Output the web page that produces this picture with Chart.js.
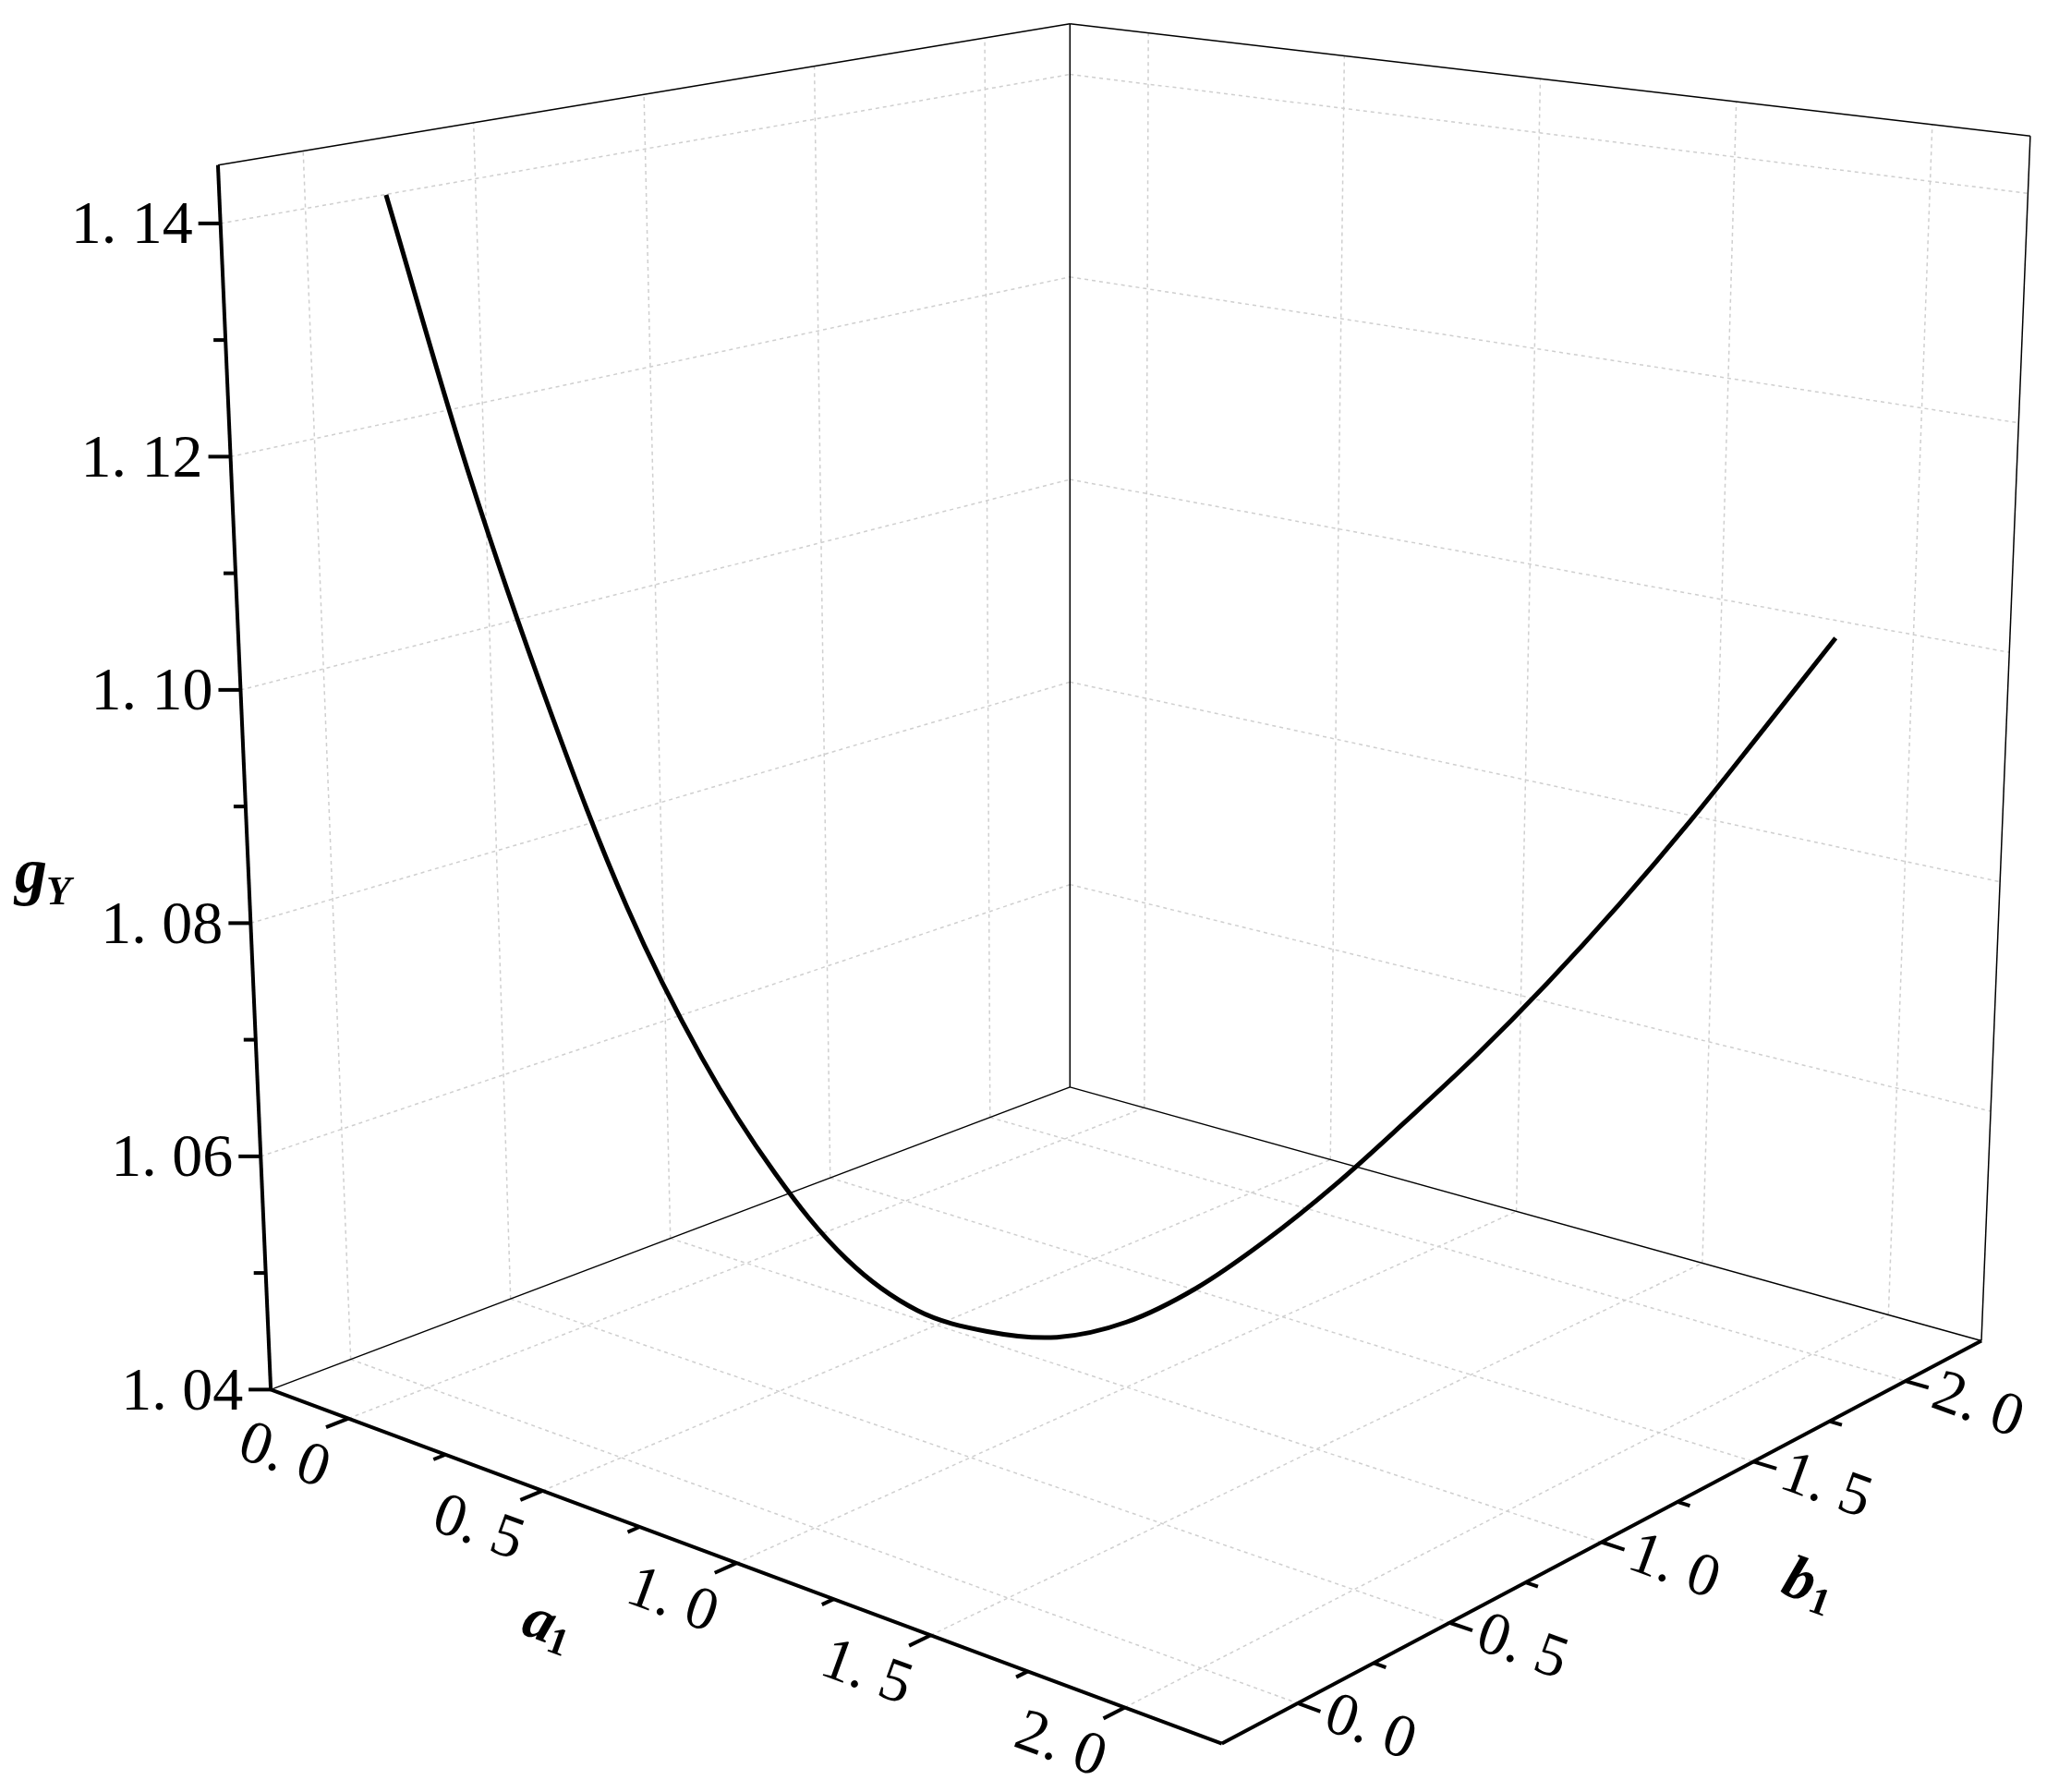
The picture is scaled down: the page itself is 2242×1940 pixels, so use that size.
<!DOCTYPE html>
<html>
<head>
<meta charset="utf-8">
<script src="https://cdn.jsdelivr.net/npm/chart.js@4/dist/chart.umd.min.js"></script>
<style>
  html, body { margin: 0; padding: 0; background: #fff; }
  #wrap { width: 2242px; height: 1940px; position: relative; }
</style>
</head>
<body>
<div id="wrap"><canvas id="chart"></canvas></div>
<script>
// data: curve along a1 = b1 = t
const tValues = [0, 0.1, 0.2, 0.3, 0.4, 0.5, 0.6, 0.7, 0.8, 0.9, 1.0, 1.1, 1.2, 1.3, 1.4, 1.5, 1.6, 1.7, 1.8, 1.9, 2.0];
const gValues = [1.143, 1.119, 1.099, 1.082, 1.069, 1.059, 1.0515, 1.047, 1.0451, 1.0445, 1.0457, 1.0485, 1.0525, 1.0572, 1.0625, 1.068, 1.074, 1.0805, 1.0875, 1.095, 1.1026];

const aTicks = [0, 0.5, 1.0, 1.5, 2.0];
const bTicks = [0, 0.5, 1.0, 1.5, 2.0];
const gTicks = [1.04, 1.06, 1.08, 1.10, 1.12, 1.14];
const aMinor = [0.25, 0.75, 1.25, 1.75];
const bMinor = [0.25, 0.75, 1.25, 1.75];
const gMinor = [1.05, 1.07, 1.09, 1.11, 1.13];

const A0 = -0.2, A1 = 2.25, B0 = -0.25, B1 = 2.25, G0 = 1.04, G1 = 1.145;

// box corners (screen), floor and ceiling
const S = 1.43;
const F = [[205, 1052], [925, 1320], [1500, 1015], [810, 823]].map(p => [p[0] * S, p[1] * S]);
const T = [[165, 125], [930, 330], [1537, 103], [810, 18]].map(p => [p[0] * S, p[1] * S]);

function proj(a, b, g) {
    const u = (a - A0) / (A1 - A0), v = (b - B0) / (B1 - B0), w = (g - G0) / (G1 - G0);
    const wt = [(1 - u) * (1 - v), u * (1 - v), u * v, (1 - u) * v];
    let fx = 0, fy = 0, tx = 0, ty = 0;
    for (let i = 0; i < 4; i++) {
        fx += F[i][0] * wt[i]; fy += F[i][1] * wt[i];
        tx += T[i][0] * wt[i]; ty += T[i][1] * wt[i];
    }
    return { x: fx + (tx - fx) * w, y: fy + (ty - fy) * w };
}

const datasets = [];
function seg(p, q, color, width, dash, order) {
    datasets.push({
        data: [p, q], showLine: true, pointRadius: 0, borderColor: color,
        borderWidth: width, borderDash: dash || [], order: order, clip: false
    });
}
function tickSeg(p, ref, len) {
    const dx = p.x - ref.x, dy = p.y - ref.y, d = Math.hypot(dx, dy);
    return { x: p.x + dx / d * len, y: p.y + dy / d * len };
}

// grid lines
const gridC = '#cfcfcf', dsh = [4, 4];
aTicks.forEach(a => {
    seg(proj(a, B0, G0), proj(a, B1, G0), gridC, 1.5, dsh, 5);
    seg(proj(a, B1, G0), proj(a, B1, G1), gridC, 1.5, dsh, 5);
});
bTicks.forEach(b => {
    seg(proj(A0, b, G0), proj(A1, b, G0), gridC, 1.5, dsh, 5);
    seg(proj(A0, b, G0), proj(A0, b, G1), gridC, 1.5, dsh, 5);
});
gTicks.slice(1).forEach(g => {
    seg(proj(A0, B0, g), proj(A0, B1, g), gridC, 1.5, dsh, 5);
    seg(proj(A0, B1, g), proj(A1, B1, g), gridC, 1.5, dsh, 5);
});

// box edges
seg(proj(A0, B1, G0), proj(A0, B1, G1), '#000', 1.5, [], 3);
seg(proj(A0, B0, G0), proj(A0, B1, G0), '#000', 1.5, [], 3);
seg(proj(A0, B1, G0), proj(A1, B1, G0), '#000', 1.5, [], 3);
seg(proj(A0, B0, G1), proj(A0, B1, G1), '#000', 1.5, [], 3);
seg(proj(A0, B1, G1), proj(A1, B1, G1), '#000', 1.5, [], 3);
seg(proj(A1, B1, G0), proj(A1, B1, G1), '#000', 1.5, [], 3);

// axes
seg(proj(A0, B0, G0), proj(A0, B0, G1), '#000', 4, [], 2);
seg(proj(A0, B0, G0), proj(A1, B0, G0), '#000', 4, [], 2);
seg(proj(A1, B0, G0), proj(A1, B1, G0), '#000', 4, [], 2);

// ticks
gTicks.forEach(g => { const p = proj(A0, B0, g); seg(p, { x: p.x - 24, y: p.y }, '#000', 4, [], 2); });
gMinor.forEach(g => { const p = proj(A0, B0, g); seg(p, { x: p.x - 13, y: p.y }, '#000', 4, [], 2); });
aTicks.concat(aMinor).forEach((a, i) => {
    const p = proj(a, B0, G0);
    seg(p, tickSeg(p, proj(a, B0 + 0.3, G0), i < aTicks.length ? 26 : 14), '#000', 4, [], 2);
});
bTicks.concat(bMinor).forEach((b, i) => {
    const p = proj(A1, b, G0);
    seg(p, tickSeg(p, proj(A1 - 0.3, b, G0), i < bTicks.length ? 26 : 14), '#000', 4, [], 2);
});

// curve
datasets.push({
    data: tValues.map((t, i) => proj(t, t, gValues[i])),
    showLine: true, pointRadius: 0, borderColor: '#000', borderWidth: 5,
    tension: 0.35, order: 0, clip: false
});

const SERIF = '"Liberation Serif", "Times New Roman", serif';
const labelPlugin = {
    id: 'labels3d',
    afterDatasetsDraw(chart) {
        const ctx = chart.ctx, xs = chart.scales.x, ys = chart.scales.y;
        const px = p => ({ x: xs.getPixelForValue(p.x), y: ys.getPixelForValue(p.y) });
        const fmt = v => v.toFixed(1).replace('.', '. ');
        ctx.save();
        ctx.fillStyle = '#000';
        ctx.font = '66px ' + SERIF;
        ctx.textAlign = 'right'; ctx.textBaseline = 'middle';
        gTicks.forEach(g => {
            const p = px(proj(A0, B0, g));
            ctx.fillText(g.toFixed(2).replace('.', '. '), p.x - 30, p.y + 4);
        });
        ctx.textAlign = 'center';
        const rot = 20 * Math.PI / 180;
        aTicks.forEach(a => {
            const p = px(proj(a, B0, G0));
            ctx.save(); ctx.translate(p.x - 70, p.y + 42); ctx.rotate(rot);
            ctx.fillText(fmt(a), 0, 0); ctx.restore();
        });
        bTicks.forEach(b => {
            const p = px(proj(A1, b, G0));
            ctx.save(); ctx.translate(p.x + 78, p.y + 28); ctx.rotate(rot);
            ctx.fillText(fmt(b), 0, 0); ctx.restore();
        });
        // axis titles
        ctx.font = 'bold italic 70px ' + SERIF;
        ctx.textAlign = 'left';
        ctx.fillText('g', 16, 948);
        ctx.font = 'bold italic 44px ' + SERIF;
        ctx.fillText('Y', 50, 968);
        ctx.save(); ctx.translate(568, 1752); ctx.rotate(rot);
        ctx.font = 'bold italic 66px ' + SERIF; ctx.fillText('a', 0, 0);
        ctx.font = 'bold 42px ' + SERIF; ctx.fillText('1', 32, 14);
        ctx.restore();
        ctx.save(); ctx.translate(1932, 1708); ctx.rotate(rot);
        ctx.font = 'bold italic 66px ' + SERIF; ctx.fillText('b', 0, 0);
        ctx.font = 'bold 42px ' + SERIF; ctx.fillText('1', 34, 14);
        ctx.restore();
        ctx.restore();
    }
};

function draw() {
    new Chart(document.getElementById('chart'), {
        type: 'scatter',
        data: { datasets: datasets },
        options: {
            responsive: true,
            maintainAspectRatio: false,
            animation: false,
            layout: { padding: 0 },
            plugins: { legend: { display: false }, tooltip: { enabled: false } },
            scales: {
                x: { type: 'linear', min: 0, max: 2242, display: false },
                y: { type: 'linear', min: 0, max: 1940, reverse: true, display: false }
            }
        },
        plugins: [labelPlugin]
    });
}

Promise.all([
    document.fonts.load('66px "Liberation Serif"'),
    document.fonts.load('bold italic 66px "Liberation Serif"'),
    document.fonts.load('bold 42px "Liberation Serif"')
]).then(draw, draw);
</script>
</body>
</html>
